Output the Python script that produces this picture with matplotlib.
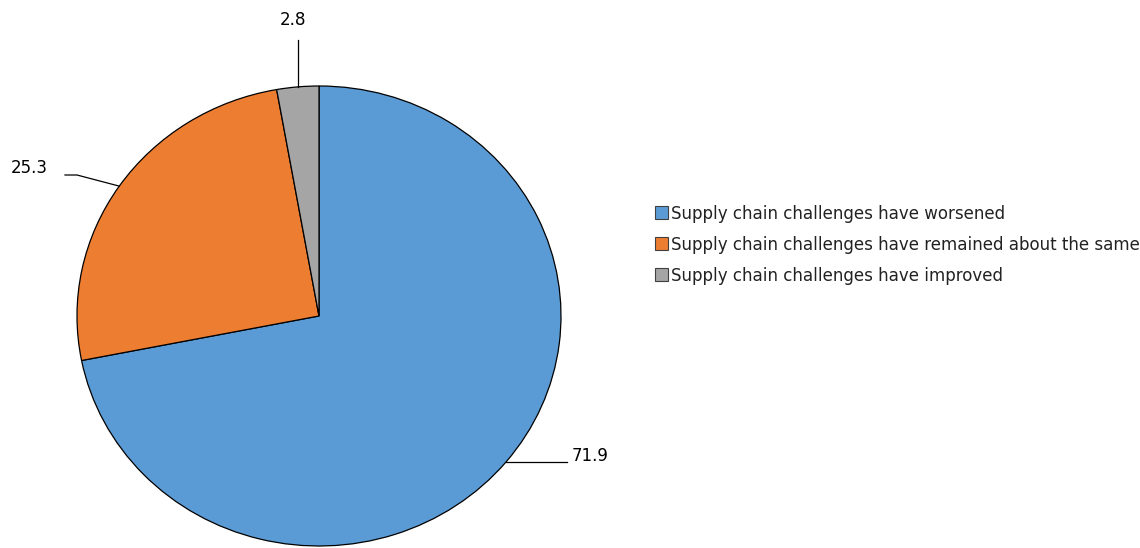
import os
import numpy as np
import matplotlib.pyplot as plt
from matplotlib.patches import Patch
from matplotlib import font_manager

labels = ['Supply chain challenges have worsened',
          'Supply chain challenges have remained about the same',
          'Supply chain challenges have improved']
values = [71.9, 25.3, 2.8]
value_text = ['71.9', '25.3', '2.8']
COLORS = ['#5B9BD5', '#ED7D31', '#A5A5A5']

# look for a narrow / condensed sans face
files = font_manager.findSystemFonts() + [f.fname for f in font_manager.fontManager.ttflist]
narrow = None
for key in ['LiberationSansNarrow-Regular', 'DejaVuSansCondensed.ttf', 'RobotoCondensed',
            'Roboto_Condensed', 'OpenSans_Condensed', 'OpenSansCondensed', 'NotoSans-Condensed']:
    hits = sorted(f for f in files if key.lower() in os.path.basename(f).lower()
                  and 'bold' not in f.lower() and 'italic' not in f.lower())
    if hits:
        narrow = hits[0]
        break
if narrow:
    font_manager.fontManager.addfont(narrow)
    FONT = font_manager.FontProperties(fname=narrow).get_name()
else:
    FONT = 'Liberation Sans'
plt.rcParams['font.family'] = [FONT, 'DejaVu Sans']
if narrow and 'condensed' in narrow.lower():
    plt.rcParams['font.stretch'] = 'condensed'

W, H = 1140, 548
CX, CY = 319, 316      # pie centre in pixels (from top)
RX, RY = 242, 230      # pie radii in pixels

fig = plt.figure(figsize=(W / 100, H / 100), dpi=100)
ax = fig.add_axes([0, 0, 1, 1])

ax.pie(values, colors=COLORS, startangle=90, counterclock=False, radius=1,
       wedgeprops=dict(edgecolor='black', linewidth=0.9))
ax.set_aspect('auto')
ax.set_xlim(-CX / RX, (W - CX) / RX)
ax.set_ylim((CY - H) / RY, CY / RY)
ax.axis('off')


def px(x, y):
    # pixel coords (origin top-left) -> data coords
    return (x - CX) / RX, (CY - y) / RY


# mid angle of each wedge
fracs = np.array(values) / sum(values)
ends = 90 - np.cumsum(fracs) * 360
starts = ends + fracs * 360
mids = np.deg2rad((starts + ends) / 2)
edge = [(np.cos(a), np.sin(a)) for a in mids]

fs = 13.3 if narrow else 12
# 71.9 - horizontal leader to the right
x0, y0 = edge[0]
x1, _ = px(567, 0)
ax.plot([x0, x1], [y0, y0], color='black', lw=0.9)
ax.text(px(572, 0)[0], px(0, 456)[1], value_text[0], ha='left', va='center', fontsize=fs)

# 25.3 - elbow leader to the left
x0, y0 = edge[1]
ex, ey = px(77, 175)
hx, _ = px(65, 0)
ax.plot([x0, ex, hx], [y0, ey, ey], color='black', lw=0.9)
ax.text(px(48, 0)[0], px(0, 168)[1], value_text[1], ha='right', va='center', fontsize=fs)

# 2.8 - vertical leader upward
x0, y0 = edge[2]
_, ty = px(0, 40)
ax.plot([x0, x0], [y0, ty], color='black', lw=0.9)
ax.text(px(293, 0)[0], px(0, 20)[1], value_text[2], ha='center', va='center', fontsize=fs)

handles = [Patch(facecolor=c, edgecolor='#404040', linewidth=0.8) for c in COLORS]
leg = fig.legend(handles, labels, loc='center left', bbox_to_anchor=(655 / W, 1 - 245 / H),
                 frameon=False, fontsize=fs, handlelength=0.68, handleheight=0.68,
                 handletextpad=0.2, labelspacing=0.72, borderaxespad=0, borderpad=0)
for t in leg.get_texts():
    t.set_color('#222222')

fig.savefig('out.png', dpi=100)
